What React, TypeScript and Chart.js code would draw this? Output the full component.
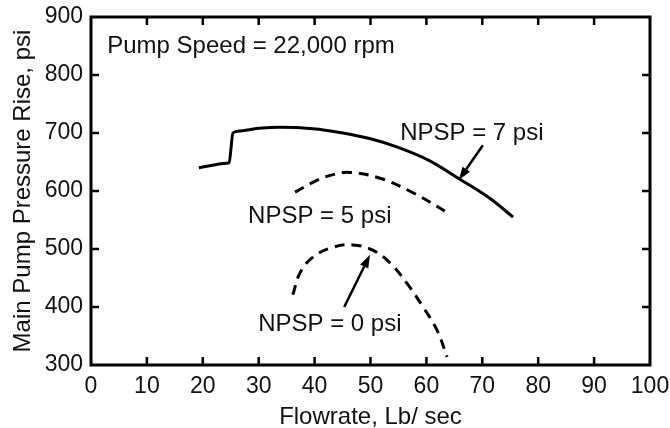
import React, { useEffect, useRef } from "react";
import { Chart, registerables } from "chart.js";

Chart.register(...registerables);

// ---- Data ----
const xTickValues = [0, 10, 20, 30, 40, 50, 60, 70, 80, 90, 100];
const yTickValues = [300, 400, 500, 600, 700, 800, 900];

const npsp7Flow = [19.3, 24.3, 24.7, 25.4, 26.3, 30, 33.8, 39.7, 44.5, 50, 54.7, 60.6, 65.7, 71.4, 75.5];
const npsp7Rise = [640, 648, 649, 700, 703, 708, 710, 707.5, 701, 690, 676, 652, 622, 587, 555];

const npsp5Flow = [36.5, 39.7, 42.8, 46.3, 51.7, 57.6, 63.9];
const npsp5Rise = [598, 615, 627, 632, 622, 597, 562];

const npsp0Flow = [36.1, 37.4, 39.7, 43.3, 46.9, 50.4, 53.5, 56.5, 59.4, 61.9, 63.7];
const npsp0Rise = [421, 459, 486, 503, 507, 498, 476, 441, 400, 360, 314];

const noteTexts = ["Pump Speed = 22,000 rpm", "NPSP = 7 psi", "NPSP = 5 psi", "NPSP = 0 psi"];
const noteFlow = [2.9, 55.3, 28.1, 29.9];
const noteRise = [838, 688, 545, 358.6];

// arrows: from (tail) -> to (head)
const arrowTailFlow = [70.1, 45.3];
const arrowTailRise = [679, 400];
const arrowHeadFlow = [65.8, 49.9];
const arrowHeadRise = [619, 490];

const FONT = "'Liberation Sans', Arial, Helvetica, sans-serif";
const INK = "#111";

const toPts = (xs: number[], ys: number[]) => xs.map((x, i) => ({ x, y: ys[i] }));

const framePlugin = {
  id: "frameAndNotes",
  afterDatasetsDraw(chart: any) {
    const { ctx, chartArea, scales } = chart;
    const xs = scales.x;
    const ys = scales.y;
    const { left, right, top, bottom } = chartArea;
    ctx.save();
    ctx.strokeStyle = "#000";
    ctx.lineWidth = 3;
    ctx.strokeRect(left, top, right - left, bottom - top);
    const tl = 8;
    ctx.lineWidth = 2.5;
    ctx.beginPath();
    xs.ticks.forEach((t: any) => {
      if (t.value <= xs.min || t.value >= xs.max) return;
      const px = xs.getPixelForValue(t.value);
      ctx.moveTo(px, bottom);
      ctx.lineTo(px, bottom - tl);
      ctx.moveTo(px, top);
      ctx.lineTo(px, top + tl);
    });
    ys.ticks.forEach((t: any) => {
      if (t.value <= ys.min || t.value >= ys.max) return;
      const py = ys.getPixelForValue(t.value);
      ctx.moveTo(left, py);
      ctx.lineTo(left + tl, py);
      ctx.moveTo(right, py);
      ctx.lineTo(right - tl, py);
    });
    ctx.stroke();

    // notes
    ctx.fillStyle = INK;
    ctx.font = `24px ${FONT}`;
    ctx.textAlign = "left";
    ctx.textBaseline = "alphabetic";
    noteTexts.forEach((t, i) => {
      ctx.fillText(t, xs.getPixelForValue(noteFlow[i]), ys.getPixelForValue(noteRise[i]));
    });

    // arrows
    ctx.strokeStyle = "#000";
    ctx.fillStyle = "#000";
    ctx.lineWidth = 2.5;
    arrowTailFlow.forEach((_, i) => {
      const x0 = xs.getPixelForValue(arrowTailFlow[i]);
      const y0 = ys.getPixelForValue(arrowTailRise[i]);
      const x1 = xs.getPixelForValue(arrowHeadFlow[i]);
      const y1 = ys.getPixelForValue(arrowHeadRise[i]);
      const ang = Math.atan2(y1 - y0, x1 - x0);
      const hl = 13;
      const hw = 4.5;
      const bx = x1 - hl * Math.cos(ang);
      const by = y1 - hl * Math.sin(ang);
      ctx.beginPath();
      ctx.moveTo(x0, y0);
      ctx.lineTo(bx, by);
      ctx.stroke();
      ctx.beginPath();
      ctx.moveTo(x1, y1);
      ctx.lineTo(bx + hw * Math.sin(ang), by - hw * Math.cos(ang));
      ctx.lineTo(bx - hw * Math.sin(ang), by + hw * Math.cos(ang));
      ctx.closePath();
      ctx.fill();
    });
    ctx.restore();
  },
};

export default function App() {
  const ref = useRef<HTMLCanvasElement | null>(null);

  useEffect(() => {
    if (!ref.current) return;
    const chart = new Chart(ref.current, {
      type: "line",
      data: {
        datasets: [
          {
            label: "NPSP = 7 psi",
            data: toPts(npsp7Flow, npsp7Rise),
            borderColor: "#000",
            borderWidth: 3,
            pointRadius: 0,
            cubicInterpolationMode: "monotone",
            fill: false,
          },
          {
            label: "NPSP = 5 psi",
            data: toPts(npsp5Flow, npsp5Rise),
            borderColor: "#000",
            borderWidth: 3,
            borderDash: [10, 7],
            pointRadius: 0,
            tension: 0.4,
            fill: false,
          },
          {
            label: "NPSP = 0 psi",
            data: toPts(npsp0Flow, npsp0Rise),
            borderColor: "#000",
            borderWidth: 3,
            borderDash: [10, 7],
            pointRadius: 0,
            tension: 0.4,
            fill: false,
          },
        ],
      },
      options: {
        animation: false,
        responsive: false,
        maintainAspectRatio: false,
        layout: { padding: { top: 17, right: 20, left: 0, bottom: 0 } },
        plugins: { legend: { display: false }, tooltip: { enabled: false } },
        scales: {
          x: {
            type: "linear",
            min: 0,
            max: 100,
            afterBuildTicks: (s: any) => {
              s.ticks = xTickValues.map((v) => ({ value: v }));
            },
            afterFit: (s: any) => {
              s.height = 63;
              s.paddingLeft = 0;
              s.paddingRight = 0;
            },
            grid: { display: false, drawTicks: false },
            border: { display: false },
            ticks: {
              color: INK,
              font: { family: FONT, size: 23 },
              padding: 8,
              maxRotation: 0,
              autoSkip: false,
            },
            title: {
              display: true,
              text: "Flowrate, Lb/ sec",
              color: INK,
              font: { family: FONT, size: 24, lineHeight: 0.85 },
              padding: { top: 0, bottom: 0 },
            },
          },
          y: {
            type: "linear",
            min: 300,
            max: 900,
            afterBuildTicks: (s: any) => {
              s.ticks = yTickValues.map((v) => ({ value: v }));
            },
            afterFit: (s: any) => {
              s.width = 91;
              s.paddingTop = 0;
              s.paddingBottom = 0;
            },
            grid: { display: false, drawTicks: false },
            border: { display: false },
            ticks: {
              color: INK,
              font: { family: FONT, size: 23 },
              padding: 8,
              autoSkip: false,
            },
            title: {
              display: true,
              text: "Main Pump Pressure Rise, psi",
              color: INK,
              font: { family: FONT, size: 24 },
              padding: { top: 9, bottom: 0 },
            },
          },
        },
      },
      plugins: [framePlugin],
    } as any);
    return () => chart.destroy();
  }, []);

  return (
    <div style={{ position: "fixed", left: 0, top: 0, width: 670, height: 428, background: "#fff" }}>
      <canvas ref={ref} width={670} height={428} style={{ width: 670, height: 428, display: "block" }} />
    </div>
  );
}
